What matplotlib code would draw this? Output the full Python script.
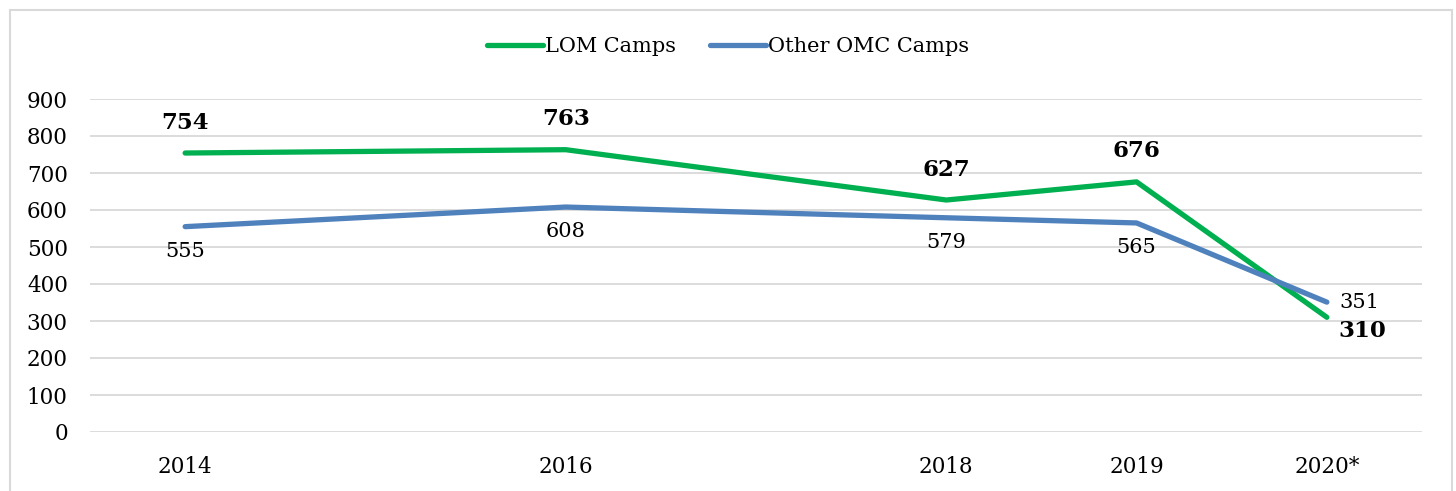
import matplotlib
matplotlib.use("Agg")
import matplotlib.pyplot as plt
from matplotlib.patches import Rectangle

years = [2014, 2016, 2018, 2019, 2020]
tick_labels = ["2014", "2016", "2018", "2019", "2020*"]
lom = [754, 763, 627, 676, 310]
other = [555, 608, 579, 565, 351]

plt.rcParams['font.family'] = ['DejaVu Serif']

fig = plt.figure(figsize=(14.56, 4.91), dpi=100)
fig.patches.append(Rectangle((10/1456, -0.01), (1452-10)/1456, 1 - 10/491 + 0.01,
                             transform=fig.transFigure, fill=False,
                             edgecolor='#D9D9D9', linewidth=1.5))
ax = fig.add_axes([90/1456, 1-432/491, (1422-90)/1456, (432-99)/491])

green = '#00B050'
blue = '#4F81BD'
ax.plot(years, lom, color=green, lw=3.8, solid_capstyle='round', label='LOM Camps', zorder=3)
ax.plot(years, other, color=blue, lw=3.8, solid_capstyle='round', label='Other OMC Camps', zorder=3)

ax.set_xlim(2013.5, 2020.5)
ax.set_ylim(0, 900)
ax.set_yticks(range(0, 1000, 100))
ax.set_xticks(years)
ax.set_xticklabels(tick_labels)
ax.grid(axis='y', color='#D9D9D9', lw=1.3)
ax.set_axisbelow(True)
for s in ax.spines.values():
    s.set_visible(False)
ax.tick_params(length=0, labelsize=15.5, colors='black')
ax.tick_params(axis='y', pad=16)
ax.tick_params(axis='x', pad=17)

for i, (x, y) in enumerate(zip(years, lom)):
    if i == len(years) - 1:
        ax.annotate(str(y), (x, y), xytext=(8, -2), textcoords='offset points',
                    ha='left', va='top', fontsize=16.5, fontweight='bold')
    else:
        ax.annotate(str(y), (x, y), xytext=(0, 14), textcoords='offset points',
                    ha='center', va='bottom', fontsize=16.5, fontweight='bold')
for i, (x, y) in enumerate(zip(years, other)):
    if i == len(years) - 1:
        ax.annotate(str(y), (x, y), xytext=(9, 0), textcoords='offset points',
                    ha='left', va='center', fontsize=15)
    else:
        ax.annotate(str(y), (x, y), xytext=(0, -11), textcoords='offset points',
                    ha='center', va='top', fontsize=15)

fig.legend(loc='center', bbox_to_anchor=(728/1456, 1-47/491), ncol=2, frameon=False,
           fontsize=15, handlelength=2.7, handletextpad=0.1, columnspacing=1.6)

fig.savefig('out.png', dpi=100)
